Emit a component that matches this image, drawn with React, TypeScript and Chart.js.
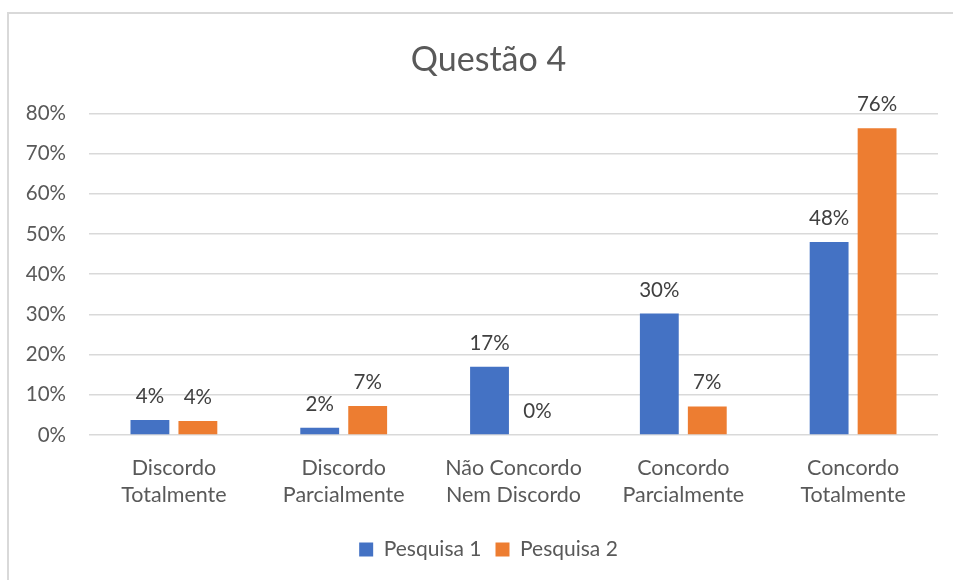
import React, { useEffect, useRef } from "react";
import { Chart, registerables } from "chart.js";

Chart.register(...registerables);

const titleText = "Questão 4";
const categories: string[][] = [
  ["Discordo", "Totalmente"],
  ["Discordo", "Parcialmente"],
  ["Não Concordo", "Nem Discordo"],
  ["Concordo", "Parcialmente"],
  ["Concordo", "Totalmente"],
];
const seriesNames = ["Pesquisa 1", "Pesquisa 2"];
const pesquisa1 = [3.7, 1.8, 17.0, 30.2, 48.0];
const pesquisa2 = [3.5, 7.2, 0, 7.1, 76.3];
const colors = ["#4472C4", "#ED7D31"];

const FONT = "Lato, 'Open Sans', sans-serif";
const TEXT = "#595959";

const dataLabels = {
  id: "dataLabels",
  afterDatasetsDraw(chart: any) {
    const ctx = chart.ctx;
    ctx.save();
    ctx.font = `20.5px ${FONT}`;
    ctx.fillStyle = "#404040";
    ctx.textAlign = "center";
    ctx.textBaseline = "alphabetic";
    chart.data.datasets.forEach((ds: any, i: number) => {
      const meta = chart.getDatasetMeta(i);
      meta.data.forEach((el: any, j: number) => {
        const v = ds.data[j];
        ctx.fillText(Math.round(v) + "%", el.x, el.y - 17);
      });
    });
    ctx.restore();
  },
};

export default function App() {
  const ref = useRef<HTMLCanvasElement>(null);
  useEffect(() => {
    if (!ref.current) return;
    const chart = new Chart(ref.current, {
      type: "bar",
      data: {
        labels: categories,
        datasets: [
          { label: seriesNames[0], data: pesquisa1, backgroundColor: colors[0], categoryPercentage: 0.565, barPercentage: 0.81 },
          { label: seriesNames[1], data: pesquisa2, backgroundColor: colors[1], categoryPercentage: 0.565, barPercentage: 0.81 },
        ],
      },
      options: {
        animation: false,
        responsive: false,
        maintainAspectRatio: false,
        layout: { padding: { left: 0, right: 0, top: 0, bottom: 10 } },
        plugins: {
          title: {
            display: true,
            text: titleText,
            color: TEXT,
            font: { family: FONT, size: 34, weight: "normal" },
            padding: { top: 40, bottom: 32.5 },
          },
          legend: {
            position: "bottom",
            labels: {
              color: TEXT,
              font: { family: FONT, size: 21 },
              boxWidth: 14,
              boxHeight: 14,
              padding: 14,
            },
          },
          tooltip: { enabled: false },
        },
        scales: {
          x: {
            grid: { display: false, drawTicks: false },
            border: { display: false },
            ticks: { color: TEXT, font: { family: FONT, size: 21.5, lineHeight: 1.27 }, padding: 19, maxRotation: 0 },
            afterFit: (s: any) => { s.height = 90; },
          },
          y: {
            min: 0,
            max: 80,
            grid: { color: "#d9d9d9", lineWidth: 1.5, drawTicks: false },
            border: { display: false },
            ticks: {
              stepSize: 10,
              color: TEXT,
              font: { family: FONT, size: 20.5 },
              padding: 23,
              callback: (v: any) => v + "%",
            },
            afterFit: (s: any) => { s.width = 82; },
          },
          yr: {
            position: "right",
            grid: { display: false },
            border: { display: false },
            ticks: { display: false },
            afterFit: (s: any) => { s.width = 32; },
          },
        },
      },
      plugins: [dataLabels],
    });
    return () => chart.destroy();
  }, []);

  return (
    <div style={{ position: "fixed", left: 0, top: 0, width: 953, height: 580, overflow: "hidden", background: "#fff" }}>
      <div style={{ position: "absolute", left: 7, top: 12, width: 1000, height: 1000, border: "2px solid #d9d9d9" }} />
      <canvas ref={ref} width={963} height={580} style={{ position: "absolute", left: 7, top: 0, width: 963, height: 580 }} />
    </div>
  );
}
